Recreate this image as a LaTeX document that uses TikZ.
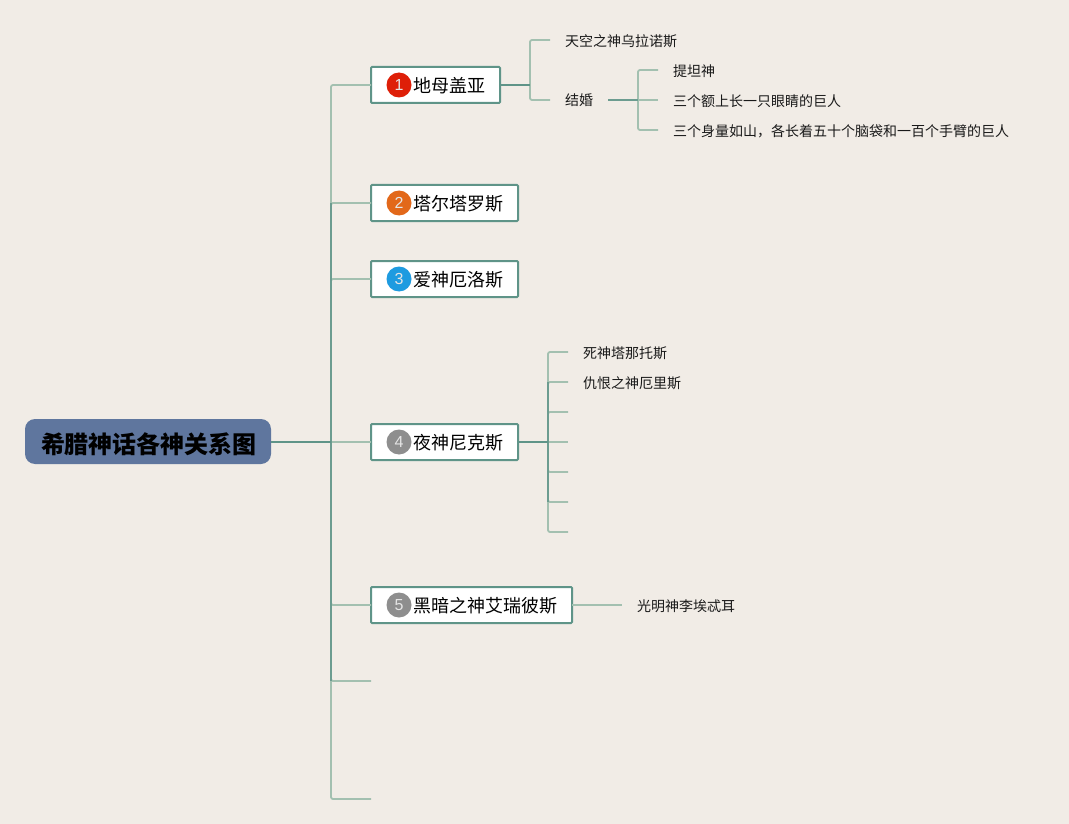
\documentclass[tikz,border=0pt]{standalone}
\usepackage{fontspec}
\setmainfont{Noto Sans CJK SC}
\newfontfamily\numfont{Liberation Sans}
\definecolor{bgc}{HTML}{F1ECE6}
\definecolor{rootc}{HTML}{5F769E}
\definecolor{darkl}{HTML}{5F9488}
\definecolor{trunkl}{HTML}{6C9C90}
\definecolor{lightl}{HTML}{A3C0B0}
\definecolor{bred}{HTML}{DE1F08}
\definecolor{borange}{HTML}{E2681A}
\definecolor{bblue}{HTML}{1E9BE0}
\definecolor{bgrey}{HTML}{8E8E8E}
\tikzset{
  rootbox/.style={fill=rootc,rounded corners=10pt,minimum width=246pt,minimum height=45pt,inner sep=0pt,outer sep=0pt},
  roottext/.style={font=\fontsize{24}{24}\selectfont\bfseries,text=black,inner sep=0pt},
  godbox/.style={draw=darkl,line width=2pt,fill=white,rounded corners=1pt,minimum height=36pt,inner sep=0pt,outer sep=0pt,anchor=west},
  godtext/.style={font=\fontsize{18}{18}\selectfont,text=black,inner sep=0pt,anchor=west},
  badge/.style={circle,minimum size=25pt,inner sep=0pt,text=white!90!black,font=\numfont\fontsize{16}{16}\selectfont},
  leaf/.style={font=\fontsize{14}{14}\selectfont,text=black!90,inner sep=0pt,anchor=west},
  lightline/.style={draw=lightl,line width=1.8pt,rounded corners=2pt},
  darkline/.style={draw=darkl,line width=1.9pt},
  trunkline/.style={draw=trunkl,line width=1.9pt}
}
\begin{document}
\begin{tikzpicture}[x=1pt,y=-1pt]
\useasboundingbox (0,0) rectangle (1069,824);
\fill[bgc] (0,0) rectangle (1069,824);

% nodes
\node[rootbox] (root) at (148,441.5) {};
\node[roottext] (roott) at (149,444) {希腊神话各神关系图};

\node[godbox,minimum width=129pt] (g1) at (371,85) {};
\node[godbox,minimum width=147pt] (g2) at (371,203) {};
\node[godbox,minimum width=147pt] (g3) at (371,279) {};
\node[godbox,minimum width=147pt] (g4) at (371,442) {};
\node[godbox,minimum width=201pt] (g5) at (371,605) {};

\node[badge,fill=bred] (b1) at (399,85) {1};
\node[badge,fill=borange] (b2) at (399,203) {2};
\node[badge,fill=bblue] (b3) at (399,279) {3};
\node[badge,fill=bgrey] (b4) at (399,442) {4};
\node[badge,fill=bgrey] (b5) at (399,605) {5};

\node[godtext] (t1) at (413.5,86) {地母盖亚};
\node[godtext] (t2) at (413.5,204) {塔尔塔罗斯};
\node[godtext] (t3) at (413.5,280) {爱神厄洛斯};
\node[godtext] (t4) at (413.5,443) {夜神尼克斯};
\node[godtext] (t5) at (413.5,606) {黑暗之神艾瑞彼斯};

\node[leaf] (l1) at (565,41) {天空之神乌拉诺斯};
\node[leaf] (l2) at (565,100) {结婚};
\node[leaf] (l21) at (673,71) {提坦神};
\node[leaf] (l22) at (673,101) {三个额上长一只眼睛的巨人};
\node[leaf] (l23) at (673,131) {三个身量如山，各长着五十个脑袋和一百个手臂的巨人};
\node[leaf] (l41) at (583,353) {死神塔那托斯};
\node[leaf] (l42) at (583,383) {仇恨之神厄里斯};
\node[leaf] (l5) at (637,606) {光明神李埃忒耳};

% junctions and free ends
\coordinate (jr) at (331,442);
\coordinate (e6) at (371,681);
\coordinate (e7) at (371,799);
\coordinate (j1) at (530,85);
\coordinate (e1a) at (550,40);
\coordinate (e1b) at (550,100);
\coordinate (j2) at (638,100);
\coordinate (s2) at (608,100);
\coordinate (e2a) at (658,70);
\coordinate (e2b) at (658,100);
\coordinate (e2c) at (658,130);
\coordinate (j4) at (548,442);
\coordinate (e4a) at (568,352);
\coordinate (e4b) at (568,382);
\coordinate (e4c) at (568,412);
\coordinate (e4d) at (568,442);
\coordinate (e4e) at (568,472);
\coordinate (e4f) at (568,502);
\coordinate (e4g) at (568,532);
\coordinate (e5) at (622,605);

% root to first-level branches
\draw[lightline] (jr) |- (g1.west);
\draw[lightline] (jr) |- (g2.west);
\draw[lightline] (jr) |- (g3.west);
\draw[lightline] (jr) -- (g4.west);
\draw[lightline] (jr) |- (g5.west);
\draw[lightline] (jr) |- (e6);
\draw[lightline] (jr) |- (e7);
\draw[trunkline] (jr |- g2.west) -- (jr |- e6);
\draw[darkline] (root.east |- jr) -- (jr);

% gaia
\draw[lightline] (j1) |- (e1a);
\draw[lightline] (j1) |- (e1b);
\draw[darkline] (g1.east) -- (j1);
\draw[lightline] (j2) |- (e2a);
\draw[lightline] (j2) -- (e2b);
\draw[lightline] (j2) |- (e2c);
\draw[trunkline] (s2) -- (j2);

% nyx
\draw[lightline] (j4) |- (e4a);
\draw[lightline] (j4) |- (e4b);
\draw[lightline] (j4) |- (e4c);
\draw[lightline] (j4) -- (e4d);
\draw[lightline] (j4) |- (e4e);
\draw[lightline] (j4) |- (e4f);
\draw[lightline] (j4) |- (e4g);
\draw[trunkline] (j4 |- e4b) -- (j4 |- e4f);
\draw[darkline] (g4.east) -- (j4);

% erebus
\draw[lightline] (g5.east) -- (e5);
\end{tikzpicture}
\end{document}
